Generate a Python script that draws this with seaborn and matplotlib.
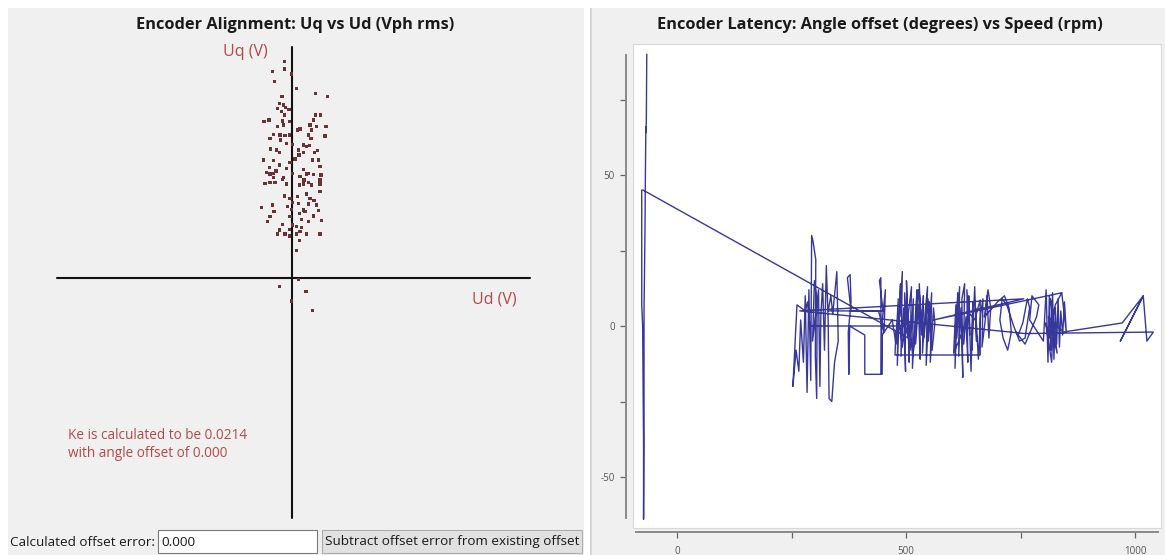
import matplotlib
matplotlib.use("Agg")
import matplotlib.pyplot as plt
from matplotlib.patches import Rectangle
import seaborn as sns
import pandas as pd

# ---------------- data ----------------
# Left panel: Uq vs Ud scatter (V)
ud_values = [-0.39, -0.39, -0.97, -0.89, -0.02, 0.24, 1.19, 1.77, -0.5, -0.64, -0.44, -0.74, -0.32, -0.15,
             -0.52, -0.39, -1.15, -1.4, -0.47, -0.14, 1.19, 1.44, 1.07, -0.44, -0.72, 0.9, 1.24, 1.7, 0.4,
             0.29, 0.99, -0.94, -0.6, -0.35, -0.14, 0.82, -1.1, -0.57, 0.04, -0.27, 0.95, 1.65, 0.57, 0.74,
             0.87, -1.07, -0.77, 0.32, 1.27, -0.64, 0.57, 1.12, -1.44, -0.94, 0.35, 0.15, 1.04, 1.32, -1.14,
             -0.64, -0.1, -0.27, 0.57, 1.4, -1.27, -0.94, -0.8, 0.02, 0.82, 1.07, 1.45, -0.94, -0.44, -1.1,
             0.4, 0.74, -1.35, -1.1, -0.85, -0.47, -0.27, 0.37, 0.57, 0.82, 0.99, 1.4, 1.4, 0.6, 1.4, -0.39,
             -0.1, 0.29, 0.74, 0.9, 1.1, 0.04, 0.32, 0.82, -1.52, -0.97, -0.24, 0.57, 1.24, 1.32, -0.9, -0.02,
             0.37, 0.65, 1.07, -0.1, -1.1, 0.49, 0.82, -1.22, 1.49, -0.47, 0.04, 0.24, 0.49, -0.64, -0.14,
             0.4, -0.74, -0.35, -0.14, 0.24, 0.74, 1.4, 0.37, 0.24, 0.32, -0.64, 0.7, -0.02, 1.04]
uq_values = [10.82, 10.45, 10.32, 9.82, 10.2, 9.49, 9.24, 9.09, 9.09, 8.74, 8.65, 8.49, 8.52, 8.44,
             8.32, 8.15, 7.9, 7.82, 7.85, 7.82, 8.15, 8.15, 7.9, 7.65, 7.57, 7.65, 7.57, 7.57, 7.45,
             7.4, 7.4, 7.19, 7.15, 7.12, 7.15, 7.15, 6.99, 6.9, 6.69, 6.74, 6.99, 7.1, 6.65, 6.57,
             6.62, 6.45, 6.4, 6.4, 6.37, 6.29, 6.29, 6.29, 5.9, 5.87, 6.15, 5.95, 5.9, 5.9, 5.54,
             5.65, 5.79, 5.49, 5.44, 5.57, 5.29, 5.24, 5.35, 5.24, 5.24, 5.19, 5.15, 5.02, 5.04, 5.2,
             5.07, 5.2, 4.74, 4.77, 4.77, 4.94, 4.7, 4.65, 4.7, 4.77, 4.65, 4.9, 4.7, 4.9, 4.32, 4.1,
             3.99, 4.07, 4.2, 3.99, 3.87, 3.77, 3.74, 3.7, 3.54, 3.65, 3.57, 3.4, 3.65, 3.37, 3.32, 3.44,
             3.24, 3.32, 3.1, 3.07, 3.07, 2.94, 2.82, 2.82, 2.87, 2.69, 2.65, 2.57, 2.54, 2.4, 2.44,
             2.32, 2.2, 2.2, 2.1, 2.2, 2.2, 2.2, 1.87, 1.37, -0.07, -0.44, -0.69, -1.15, -1.64]
ud_axis_extent = [-11.75, 11.9]
uq_axis_extent = [-12.0, 11.55]

# Right panel: angle offset (degrees) vs speed (rpm), one continuous trace
speed_startup = [-66, -67, -68, -68, -69, -70, -71, -71, -72, -72, -73, -73, -74, -75, -77, -77, -74]
angle_startup = [90, 68, 64, 66, 50, 30, 18, 16, 5, -30, -64, -40, -20, 0, 7, 45, 45]

speed_sweep = [505, 498, 290]
angle_sweep = [-4, 0, 0]

speed_c1 = [285, 280, 262, 258, 253, 260, 266, 270, 276, 280, 284, 288, 292, 294, 297, 301, 303, 302, 305,
            306, 300, 296, 309, 312, 314, 318, 322, 326, 330, 332, 338, 344, 352, 349, 340, 336, 330]
angle_c1 = [8, 5, 7, -5, -20, -8, -15, 2, -12, 10, -22, 12, -18, 30, 28, 24, 22, -10, -24,
            8, 15, -5, 12, -20, 3, 14, -8, 20, 2, -24, -25, -12, -5, 18, 4, 10, 5]

speed_mid = [450, 442, 445, 446, 447, 455, 452, 440, 380, 372, 378, 380, 374, 375, 377, 410, 410, 448, 448, 470]
angle_mid = [5, 15, 16, -16, 0, 12, -2, 5, 5, 16, 17, 8, -2, -16, 0, -3, -16, -16, -3, 2]

speed_c2 = [478, 483, 481, 488, 486, 492, 489, 495, 499, 497, 503, 501, 507, 505, 512, 509, 516, 514, 520, 524,
            521, 527, 531, 529, 534, 538, 536, 542, 547, 544, 551, 549, 556, 553, 560, 563, 557, 548, 539, 528,
            515, 503, 492, 484, 478, 476, 662, 662]
angle_c2 = [-6, 9, -13, 14, 3, 18, -10, 6, -15, 11, -2, 15, -12, 4, 13, -8, 9, -14, 2, 12,
            -6, 7, -11, 14, -3, 10, -9, 5, 13, -13, 8, -5, 11, -12, 6, 1, -8, 9, -4, 12,
            -10, 5, -7, 3, -2, -9.6, -9.6, 8.6]

speed_c3 = [650, 640, 604, 609, 607, 613, 611, 617, 615, 620, 624, 622, 628, 626, 631, 635, 633, 639, 637, 642,
            646, 644, 650, 654, 652, 658, 663, 668, 666, 673, 677, 681, 685, 679, 671]
angle_c3 = [2, 4, -9, 7, -14, 11, -4, 13, -10, 6, -17, 9, 14, -6, 3, -12, 12, -3, 10, -15,
            8, -8, 13, -5, 6, -11, 4, 9, -7, 2, 10, -4, 6, 12, 3]

speed_loops = [700, 715, 725, 730, 722, 712, 705, 710, 720, 735, 748, 760, 770, 765, 755, 745, 740, 760,
               785, 790, 775, 770]
angle_loops = [8, 10, 6, -2, -8, -4, 2, 9, 7, 0, -5, -4, 6, 9, 1, -3, -2, -6, 3, 7, 10, 2]

speed_c4 = [800, 806, 810, 813, 816, 820, 823, 826, 829, 832, 835, 838, 842, 846, 850, 840, 826, 812, 805,
            818, 822, 815, 830, 811]
angle_c4 = [-5, 12, -12, 10, -8, 11, -11, 6, -6, 9, -7, 5, -3, 8, -2, 11, 7, -4, 1,
            -12, 4, 9, -9, 3]

speed_tail = [843, 972, 1018, 968, 1018, 1026, 1040, 760, 268, 757, 560, 840]
angle_tail = [-2, 1, 10, -5, 10, -5, -2, -2.5, 5, 9, 2, 11]

speed_ticks = [0, 500, 1000]
speed_minor = [250, 750]
angle_ticks = [-50, 0, 50]
angle_minor = [-25, 25, 75]
speed_axis_extent = [-89, 1050]
angle_axis_extent = [-63.6, 89.7]

# ---------------- figure ----------------
W, H = 1165, 555
sns.set_theme(style="white")
plt.rcParams['font.family'] = ['Open Sans', 'DejaVu Sans']
plt.rcParams['axes.unicode_minus'] = False

fig = plt.figure(figsize=(W / 100, H / 100), dpi=100, facecolor='white')


def fx(x):
    return x / W


def fy(y):
    return 1 - y / H


def rect_px(x0, y0, x1, y1, **kw):
    r = Rectangle((fx(x0), fy(y1)), (x1 - x0) / W, (y1 - y0) / H, transform=fig.transFigure, **kw)
    fig.add_artist(r)
    return r


panel_gray = '#f0f0f0'
rect_px(8, 8, 584, 556, facecolor=panel_gray, edgecolor='none', zorder=-3)
rect_px(590, 8, 1166, 556, facecolor=panel_gray, edgecolor='none', zorder=-3)
rect_px(590, 8, 592, 556, facecolor='#d6d6d6', edgecolor='none', zorder=-2.5)
rect_px(633, 44, 1161, 528, facecolor='white', edgecolor='#d8d8d8', lw=0.8, zorder=-2)

# ---------- left panel ----------
ax1 = fig.add_axes([fx(40), fy(525), (545 - 40) / W, (525 - 40) / H])
ax1.set_facecolor('none')
ax1.set_zorder(1)
ax1.set_xlim((40 - 292) / 20, (545 - 292) / 20)
ax1.set_ylim((278 - 525) / 20, (278 - 40) / 20)
ax1.axis('off')
ax1.plot(ud_axis_extent, [0, 0], color='#111111', lw=1.5, zorder=1)
ax1.plot([0, 0], uq_axis_extent, color='#111111', lw=1.5, zorder=1)
df_left = pd.DataFrame({'Ud': ud_values, 'Uq': uq_values})
sns.scatterplot(data=df_left, x='Ud', y='Uq', ax=ax1, marker='s', s=5, color='#6a3232',
                edgecolor='none', linewidth=0, zorder=3)

red = '#b54848'
fig.text(fx(295), fy(25), 'Encoder Alignment: Uq vs Ud (Vph rms)', ha='center', va='center',
         fontsize=11.8, fontweight='bold', color='#1a1a1a')
fig.text(fx(245), fy(52), 'Uq (V)', ha='center', va='center', fontsize=11.5, color=red)
fig.text(fx(494), fy(300), 'Ud (V)', ha='center', va='center', fontsize=11.5, color=red)
fig.text(fx(68), fy(444.5), 'Ke is calculated to be 0.0214\nwith angle offset of 0.000', ha='left',
         va='center', fontsize=9.8, color=red, linespacing=1.2)

# bottom widgets
fig.text(fx(10), fy(542), 'Calculated offset error:', ha='left', va='center', fontsize=9.7, color='#1a1a1a')
rect_px(158, 530, 317, 553, facecolor='white', edgecolor='#7a7a7a', lw=0.8, zorder=1)
fig.text(fx(161), fy(542), '0.000', ha='left', va='center', fontsize=9.7, color='#1a1a1a')
rect_px(322, 530, 582, 553, facecolor='#e1e1e1', edgecolor='#adadad', lw=0.8, zorder=1)
fig.text(fx(452), fy(542), 'Subtract offset error from existing offset', ha='center', va='center',
         fontsize=9.7, color='#1a1a1a')

# ---------- right panel ----------
speed_all = (speed_startup + speed_sweep + speed_c1 + speed_mid + speed_c2 + speed_c3 +
             speed_loops + speed_c4 + speed_tail)
angle_all = (angle_startup + angle_sweep + angle_c1 + angle_mid + angle_c2 + angle_c3 +
             angle_loops + angle_c4 + angle_tail)
df_right = pd.DataFrame({'speed': speed_all, 'angle': angle_all})

ax2 = fig.add_axes([fx(634), fy(527), (1160 - 634) / W, (527 - 45) / H])
ax2.set_facecolor('none')
ax2.set_zorder(1)
sns.lineplot(data=df_right, x='speed', y='angle', sort=False, estimator=None, ax=ax2,
             color='#15158a', lw=1.0, alpha=0.85)
ax2.set_xlim((634 - 677) / 0.458, (1160 - 677) / 0.458)
ax2.set_ylim((326 - 527) / 3.02, (326 - 45) / 3.02)
ax2.set_xlabel('')
ax2.set_ylabel('')
for s in ['top', 'right']:
    ax2.spines[s].set_visible(False)
ax2.spines['left'].set_position(('outward', 8 * 0.72))
ax2.spines['bottom'].set_position(('outward', 5 * 0.72))
ax2.spines['left'].set_bounds(*angle_axis_extent)
ax2.spines['bottom'].set_bounds(*speed_axis_extent)
for s in ['left', 'bottom']:
    ax2.spines[s].set_color('#8a8a8a')
    ax2.spines[s].set_linewidth(1.4)
    ax2.spines[s].set_visible(True)
ax2.set_xticks(speed_ticks)
ax2.set_xticks(speed_minor, minor=True)
ax2.set_yticks(angle_ticks)
ax2.set_yticks(angle_minor, minor=True)
ax2.tick_params(axis='both', which='both', direction='out', length=4, width=0.9, color='#666666',
                labelsize=7, labelcolor='#555555', left=True, bottom=True)
ax2.tick_params(axis='both', which='minor', labelleft=False, labelbottom=False)
ax2.tick_params(axis='x', pad=6)
ax2.tick_params(axis='y', pad=4)

fig.text(fx(880), fy(25), 'Encoder Latency: Angle offset (degrees) vs Speed (rpm)', ha='center',
         va='center', fontsize=11.8, fontweight='bold', color='#1a1a1a')

fig.savefig('out.png', dpi=100, facecolor='white')
